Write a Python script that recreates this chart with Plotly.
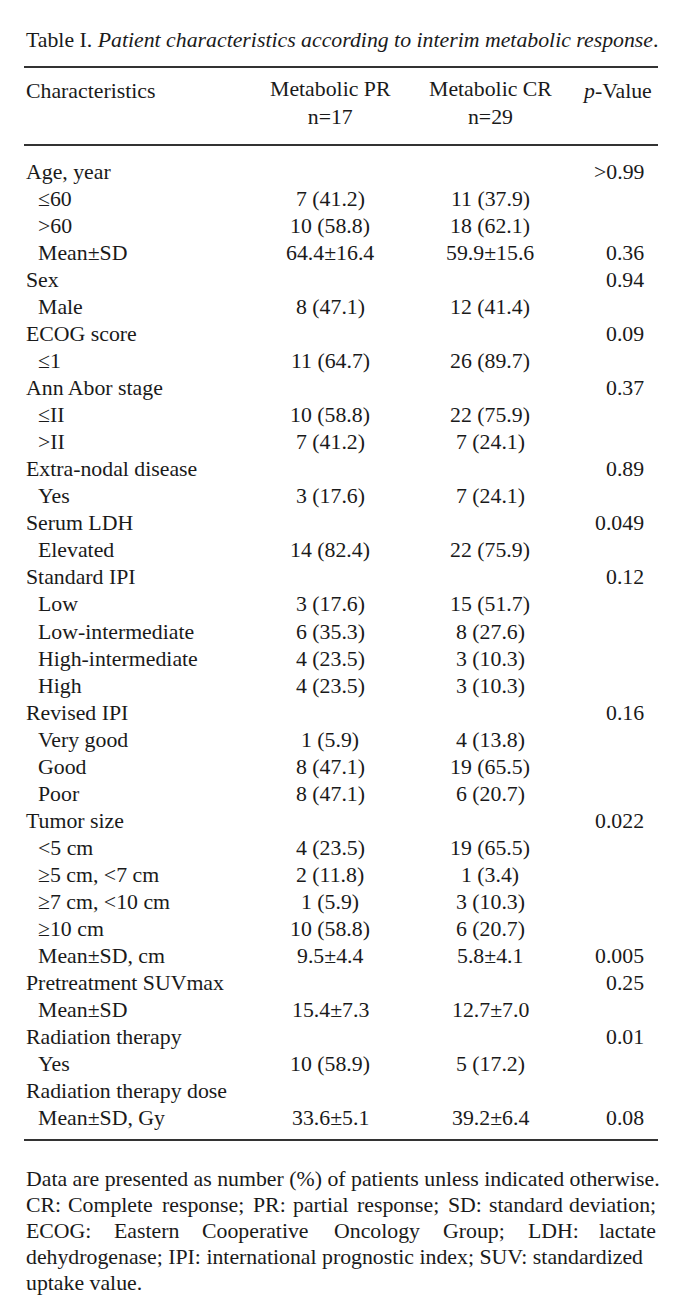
import plotly.graph_objects as go

W, H = 687, 1313
BODY = 8  # default page margin around the plot div

title_prefix = "Table I. "
title_italic = "Patient characteristics according to interim metabolic response"
header_labels = ["Characteristics", "Metabolic PR<br>n=17", "Metabolic CR<br>n=29", "<i>p</i>-Value"]

labels = ["Age, year", "≤60", ">60", "Mean±SD", "Sex", "Male", "ECOG score", "≤1",
          "Ann Abor stage", "≤II", ">II", "Extra-nodal disease", "Yes", "Serum LDH", "Elevated",
          "Standard IPI", "Low", "Low-intermediate", "High-intermediate", "High",
          "Revised IPI", "Very good", "Good", "Poor",
          "Tumor size", "<5 cm", "≥5 cm, <7 cm", "≥7 cm, <10 cm", "≥10 cm", "Mean±SD, cm",
          "Pretreatment SUVmax", "Mean±SD", "Radiation therapy", "Yes",
          "Radiation therapy dose", "Mean±SD, Gy"]
indent = [0, 1, 1, 1, 0, 1, 0, 1, 0, 1, 1, 0, 1, 0, 1, 0, 1, 1, 1, 1, 0, 1, 1, 1,
          0, 1, 1, 1, 1, 1, 0, 1, 0, 1, 0, 1]
pr = ["", "7 (41.2)", "10 (58.8)", "64.4±16.4", "", "8 (47.1)", "", "11 (64.7)",
      "", "10 (58.8)", "7 (41.2)", "", "3 (17.6)", "", "14 (82.4)",
      "", "3 (17.6)", "6 (35.3)", "4 (23.5)", "4 (23.5)",
      "", "1 (5.9)", "8 (47.1)", "8 (47.1)",
      "", "4 (23.5)", "2 (11.8)", "1 (5.9)", "10 (58.8)", "9.5±4.4",
      "", "15.4±7.3", "", "10 (58.9)", "", "33.6±5.1"]
cr = ["", "11 (37.9)", "18 (62.1)", "59.9±15.6", "", "12 (41.4)", "", "26 (89.7)",
      "", "22 (75.9)", "7 (24.1)", "", "7 (24.1)", "", "22 (75.9)",
      "", "15 (51.7)", "8 (27.6)", "3 (10.3)", "3 (10.3)",
      "", "4 (13.8)", "19 (65.5)", "6 (20.7)",
      "", "19 (65.5)", "1 (3.4)", "3 (10.3)", "6 (20.7)", "5.8±4.1",
      "", "12.7±7.0", "", "5 (17.2)", "", "39.2±6.4"]
pval = [">0.99", "", "", "0.36", "0.94", "", "0.09", "", "0.37", "", "", "0.89", "",
        "0.049", "", "0.12", "", "", "", "", "0.16", "", "", "",
        "0.022", "", "", "", "", "0.005", "0.25", "", "0.01", "", "", "0.08"]

foot_lines = [
    "Data are presented as number (%) of patients unless indicated otherwise.",
    "CR: Complete response; PR: partial response; SD: standard deviation;",
    "ECOG: Eastern Cooperative Oncology Group; LDH: lactate",
    "dehydrogenase; IPI: international prognostic index; SUV: standardized",
    "uptake value.",
]
foot_justify = [False, True, True, False, False]

FONT = "Liberation Serif, Times New Roman, serif"
FS = 21.8
COL = "#1a1a1a"

X_LEFT, X_RIGHT = 24, 658
X_IND = 36
X_PR, X_CR, X_P = 330, 490, 646
Y0_ROW, DY = 172, 27.03

# Times / Liberation Serif advance widths (1/1000 em) used to justify footnote lines
TW = {' ': 250, '(': 333, ')': 333, '%': 833, ',': 250, '-': 333, '.': 250, ':': 278, ';': 278,
      'A': 722, 'B': 667, 'C': 667, 'D': 722, 'E': 611, 'F': 556, 'G': 722, 'H': 722, 'I': 333,
      'J': 389, 'K': 722, 'L': 611, 'M': 889, 'N': 722, 'O': 722, 'P': 556, 'Q': 722, 'R': 667,
      'S': 556, 'T': 611, 'U': 722, 'V': 722, 'W': 944, 'X': 722, 'Y': 722, 'Z': 611,
      'a': 444, 'b': 500, 'c': 444, 'd': 500, 'e': 444, 'f': 333, 'g': 500, 'h': 500, 'i': 278,
      'j': 278, 'k': 500, 'l': 278, 'm': 778, 'n': 500, 'o': 500, 'p': 500, 'q': 500, 'r': 333,
      's': 389, 't': 278, 'u': 500, 'v': 500, 'w': 722, 'x': 500, 'y': 500, 'z': 444}
WFIX = 1.04  # rendered glyphs run slightly wider than the nominal table

def wlen(s):
    return sum(TW.get(ch, 500) for ch in s) * FS / 1000.0 * WFIX

fig = go.Figure()
fig.add_trace(go.Scatter(x=[BODY, W], y=[BODY, H], mode="markers", marker=dict(opacity=0),
                         hoverinfo="skip", showlegend=False))

ann = []
def t(x, y, s, xa="left", size=FS, align="left"):
    ann.append(dict(x=x, y=y, text=s, xref="x", yref="y", xanchor=xa, yanchor="middle",
                    showarrow=False, align=align, font=dict(family=FONT, size=size, color=COL)))

t(X_LEFT, 40, title_prefix + "<i>" + title_italic + "</i>.")
t(X_LEFT, 91, header_labels[0])
t(X_PR, 103, header_labels[1], xa="center", align="center")
t(X_CR, 103, header_labels[2], xa="center", align="center")
t(654, 91, header_labels[3], xa="right")

for i, lab in enumerate(labels):
    y = Y0_ROW + i * DY
    t(X_IND if indent[i] else X_LEFT, y, lab)
    if pr[i]:
        t(X_PR, y, pr[i], xa="center")
    if cr[i]:
        t(X_CR, y, cr[i], xa="center")
    if pval[i]:
        t(X_P, y, pval[i], xa="right")

FY0, FDY = 1179, 26
for j, line in enumerate(foot_lines):
    y = FY0 + j * FDY
    if not foot_justify[j]:
        t(X_LEFT, y, line)
        continue
    words = line.split(" ")
    widths = [wlen(w) for w in words]
    gap = max((X_RIGHT - X_LEFT - sum(widths)) / (len(words) - 1), wlen(" "))
    x = X_LEFT
    for k, (w, wd) in enumerate(zip(words, widths)):
        if k == len(words) - 1:
            t(X_RIGHT, y, w, xa="right")
        else:
            t(x, y, w)
        x += wd + gap

shapes = []
for yl in [67, 145, 1140]:
    shapes.append(dict(type="line", xref="x", yref="y", x0=X_LEFT, x1=X_RIGHT, y0=yl, y1=yl,
                       line=dict(color="#333333", width=2)))

fig.update_layout(
    width=W - BODY, height=H - BODY, margin=dict(l=0, r=0, t=0, b=0),
    paper_bgcolor="white", plot_bgcolor="white",
    xaxis=dict(range=[BODY, W], visible=False, fixedrange=True),
    yaxis=dict(range=[H, BODY], visible=False, fixedrange=True),
    annotations=ann, shapes=shapes, showlegend=False,
)
fig.write_html("out.html")
